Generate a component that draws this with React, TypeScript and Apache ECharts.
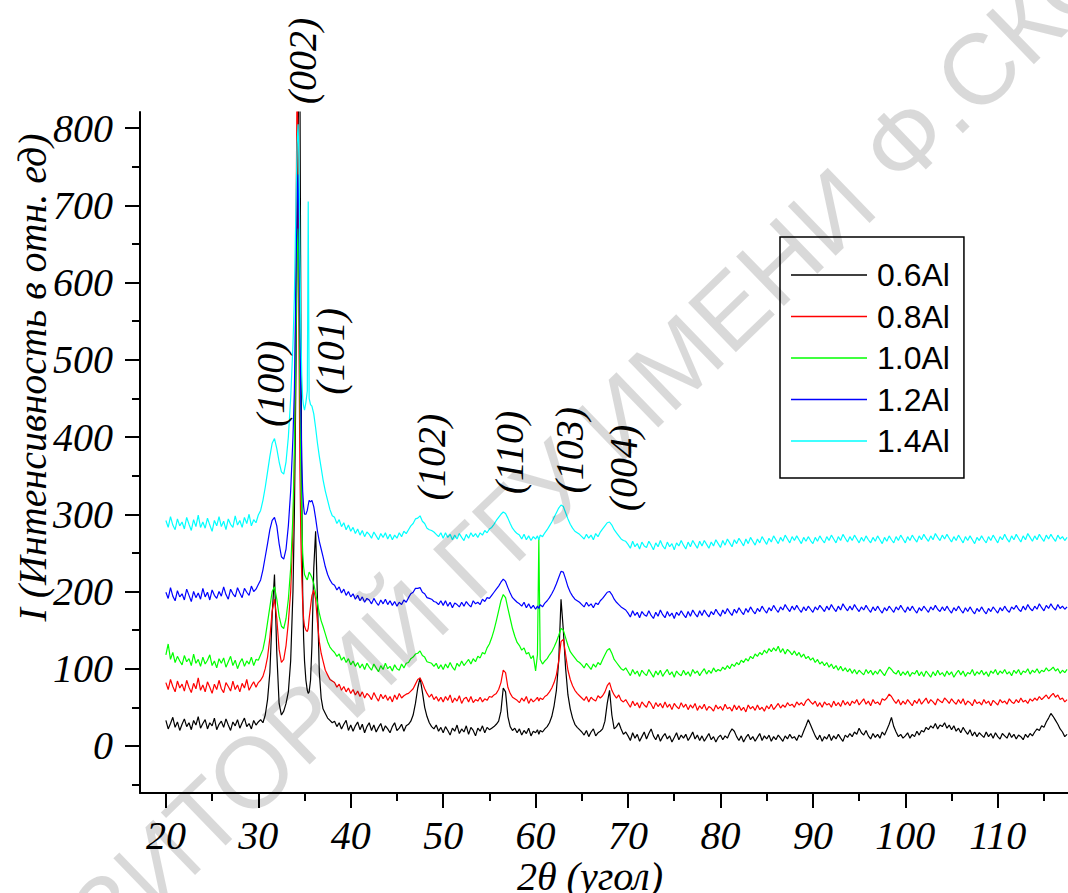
import { useEffect, useRef } from "react";
import * as echarts from "echarts";

const TWO_THETA = [
  20, 20.25, 20.5, 20.75, 21, 21.25, 21.5, 21.75,
  22, 22.25, 22.5, 22.75, 23, 23.25, 23.5, 23.75,
  24, 24.25, 24.5, 24.75, 25, 25.25, 25.5, 25.75,
  26, 26.25, 26.5, 26.75, 27, 27.25, 27.5, 27.75,
  28, 28.25, 28.5, 28.75, 29, 29.25, 29.5, 29.75,
  30,
  30.25, 30.5, 30.75, 31, 31.25, 31.5, 31.75, 32, 32.25, 32.5, 32.75, 33, 33.25, 33.5, 33.75,
  33.9, 34, 34.1, 34.2, 34.3, 34.4, 34.5, 34.6, 34.7, 34.8, 34.9, 35,
  35.15, 35.3, 35.4, 35.5, 35.65, 35.8, 36, 36.2, 36.4, 36.6, 36.8, 37, 37.25, 37.5, 37.75, 38,
  38.25, 38.5, 38.75, 39, 39.25, 39.5, 39.75, 40,
  40.25, 40.5, 40.75, 41, 41.25, 41.5, 41.75, 42,
  42.25, 42.5, 42.75, 43, 43.25, 43.5, 43.75, 44,
  44.25, 44.5, 44.75, 45, 45.25, 45.5, 45.75, 46,
  46.25, 46.5, 46.75, 47, 47.25, 47.5, 47.75, 48, 48.25, 48.5, 48.75, 49, 49.25, 49.5, 49.75,
  50, 50.25, 50.5, 50.75, 51, 51.25, 51.5, 51.75,
  52, 52.25, 52.5, 52.75, 53, 53.25, 53.5, 53.75,
  54, 54.25, 54.5, 54.75, 55,
  55.25, 55.5, 55.75, 56, 56.25, 56.5, 56.75, 57, 57.25, 57.5, 57.75, 58,
  58.25, 58.5, 58.75, 59, 59.25, 59.5, 59.75, 60, 60.2, 60.35, 60.5, 60.75, 61,
  61.25, 61.5, 61.75, 62, 62.25, 62.5, 62.75, 63, 63.25, 63.5, 63.75, 64, 64.25, 64.5, 64.75, 65,
  65.25, 65.5, 65.75, 66, 66.25, 66.5, 66.75, 67,
  67.25, 67.5, 67.75, 68, 68.25, 68.5, 68.75, 69, 69.25, 69.5,
  69.75,
  70, 70.25, 70.5, 70.75, 71, 71.25, 71.5, 71.75,
  72, 72.25, 72.5, 72.75, 73, 73.25, 73.5, 73.75,
  74, 74.25, 74.5, 74.75, 75, 75.25, 75.5, 75.75,
  76, 76.25, 76.5, 76.75, 77, 77.25, 77.5, 77.75,
  78, 78.25, 78.5, 78.75, 79, 79.25, 79.5, 79.75,
  80, 80.25, 80.5, 80.75, 81, 81.25, 81.5, 81.75,
  82, 82.25, 82.5, 82.75, 83, 83.25, 83.5, 83.75,
  84, 84.25, 84.5, 84.75, 85, 85.25, 85.5, 85.75,
  86, 86.25, 86.5, 86.75, 87, 87.25, 87.5, 87.75,
  88, 88.25, 88.5, 88.75, 89, 89.25, 89.5, 89.75,
  90, 90.25, 90.5, 90.75, 91, 91.25, 91.5, 91.75,
  92, 92.25, 92.5, 92.75, 93, 93.25, 93.5, 93.75,
  94, 94.25, 94.5, 94.75, 95, 95.25, 95.5, 95.75,
  96, 96.25, 96.5, 96.75, 97, 97.25, 97.5, 97.75,
  98, 98.25, 98.5, 98.75, 99, 99.25, 99.5, 99.75,
  100, 100.25, 100.5, 100.75, 101, 101.25, 101.5, 101.75,
  102, 102.25, 102.5, 102.75, 103, 103.25, 103.5, 103.75,
  104, 104.25, 104.5, 104.75, 105, 105.25, 105.5, 105.75,
  106, 106.25, 106.5, 106.75, 107, 107.25, 107.5, 107.75,
  108, 108.25, 108.5, 108.75, 109, 109.25, 109.5, 109.75,
  110, 110.25, 110.5, 110.75, 111, 111.25, 111.5, 111.75,
  112, 112.25, 112.5, 112.75, 113, 113.25, 113.5, 113.75,
  114, 114.25, 114.5, 114.75, 115, 115.25, 115.5, 115.75,
  116, 116.25, 116.5, 116.75, 117, 117.25, 117.5,
];

const I_06AL = [
  33, 22, 29, 37, 24, 31, 20, 28,
  35, 25, 30, 21, 33, 27, 38, 23,
  29, 34, 22, 30, 26, 36, 21, 28,
  32, 24, 35, 27, 20, 31, 26, 34,
  23, 30, 36, 25, 29, 22, 33, 27,
  31,
  34, 30, 40, 60, 95, 170, 222, 120, 55, 40, 45, 55, 70, 110, 200,
  300, 400, 520, 650, 780, 880, 870, 560, 330, 200, 140, 110,
  85, 72, 68, 70, 85, 130, 230, 278, 190, 95, 62, 48, 42, 36, 33, 30,
  32, 25, 30, 22, 28, 33, 20, 27,
  19, 26, 31, 21, 28, 17, 25, 30,
  20, 27, 18, 24, 29, 19, 26, 22,
  17, 25, 30, 20, 23, 28, 19, 26,
  28, 32, 40, 55, 75, 88, 70, 50, 38, 30, 25, 22, 27, 19, 24,
  17, 25, 20, 14, 23, 19, 27, 16,
  22, 18, 26, 15, 24, 20, 13, 23,
  19, 26, 17, 24, 21,
  23, 25, 28, 32, 45, 75, 70, 38, 25, 20, 23, 17,
  22, 14, 20, 16, 23, 13, 19, 17, 21, 15, 20, 18, 22,
  25, 30, 38, 52, 72, 110, 190, 150, 100, 66, 48, 36, 28, 24, 21, 18,
  14, 20, 12, 18, 22, 13, 17, 19,
  22, 32, 55, 72, 40, 22, 25, 30, 22, 15,
  18,
  13, 7, 17, 10, 15, 6, 12, 18,
  9, 16, 22, 13, 8, 15, 6, 12,
  16, 9, 13, 5, 11, 17, 8, 14,
  10, 15, 7, 12, 18, 9, 14, 7,
  13, 6, 11, 16, 8, 12, 5, 11,
  14, 8, 13, 10, 17, 22, 19, 12,
  7, 13, 5, 11, 15, 8, 12, 6,
  11, 16, 7, 13, 9, 14, 6, 12,
  8, 14, 10, 6, 13, 9, 15, 10,
  12, 7, 14, 11, 19, 26, 34, 27,
  20, 13, 8, 14, 6, 12, 9, 15,
  7, 13, 9, 15, 10, 6, 14, 11,
  16, 12, 18, 15, 23, 17, 14, 20,
  13, 9, 16, 11, 15, 10, 18, 14,
  21, 28, 37, 25, 18, 12, 15, 10,
  13, 17, 10, 15, 12, 19, 14, 20,
  18, 24, 21, 26, 23, 29, 22, 27,
  25, 30, 23, 27, 21, 26, 19, 23,
  17, 24, 19, 15, 21, 13, 18, 12,
  17, 14, 11, 18, 12, 16, 10, 17,
  12, 9, 16, 13, 10, 17, 11, 15,
  9, 14, 12, 8, 15, 11, 16, 13,
  18, 22, 20, 26, 24, 31, 36, 42,
  38, 33, 28, 22, 18, 12, 15,
];

const I_08AL = [
  82, 73, 86, 77, 70, 84, 75, 80,
  71, 85, 76, 69, 81, 74, 88, 72,
  79, 70, 83, 76, 68, 80, 73, 85,
  74, 69, 82, 77, 71, 84, 73, 79,
  70, 81, 75, 86, 72, 78, 83, 76,
  82,
  85, 90, 100, 115, 140, 175, 190, 165, 125, 108, 112, 130, 160, 200, 280,
  360, 480, 700, 880, 760, 520, 360, 270, 220, 185, 165, 155,
  150, 148, 152, 165, 180, 195, 202, 190, 160, 135, 120, 110, 98, 92, 86, 84,
  82, 76, 80, 72, 77, 70, 75, 68,
  73, 66, 71, 64, 70, 62, 68, 65,
  60, 69, 63, 58, 67, 61, 66, 59,
  64, 57, 66, 60, 68, 62, 65, 67,
  68, 71, 74, 80, 86, 88, 82, 74, 68, 63, 67, 60, 64, 58, 63,
  57, 64, 59, 66, 56, 62, 58, 65,
  55, 61, 63, 57, 64, 56, 60, 58,
  63, 57, 61, 59, 64,
  63, 66, 68, 73, 82, 98, 95, 76, 68, 63, 61, 59,
  56, 62, 58, 64, 55, 61, 57, 60, 63, 58, 62, 60, 64,
  66, 70, 75, 82, 92, 110, 135, 138, 118, 98, 86, 78, 72, 68, 65, 62,
  59, 64, 57, 63, 60, 58, 65, 62,
  65, 70, 78, 82, 72, 66, 62, 66, 59, 57,
  60,
  55, 50, 58, 52, 56, 49, 57, 53,
  50, 58, 54, 48, 56, 51, 55, 49,
  57, 50, 54, 47, 55, 51, 48, 56,
  50, 54, 47, 53, 49, 55, 46, 52,
  48, 54, 46, 51, 49, 45, 53, 48,
  51, 46, 54, 48, 50, 45, 53, 47,
  52, 46, 50, 44, 53, 48, 51, 46,
  53, 47, 50, 45, 52, 48, 54, 47,
  51, 55, 49, 53, 50, 56, 52, 54,
  50, 57, 53, 56, 52, 58, 61, 57,
  54, 58, 51, 56, 50, 57, 53, 55,
  50, 58, 52, 56, 51, 59, 53, 57,
  52, 58, 55, 60, 53, 57, 61, 54,
  58, 52, 60, 55, 57, 53, 61, 59,
  62, 67, 64, 59, 55, 60, 53, 58,
  54, 60, 56, 52, 59, 55, 61, 54,
  58, 62, 55, 60, 57, 53, 61, 58,
  56, 62, 59, 55, 61, 57, 54, 60,
  55, 61, 53, 58, 56, 52, 60, 55,
  57, 53, 60, 55, 58, 52, 59, 56,
  53, 60, 56, 58, 54, 61, 57, 55,
  60, 56, 62, 57, 59, 55, 61, 58,
  62, 59, 64, 60, 63, 66, 61, 65,
  68, 63, 66, 60, 62, 57, 60,
];

const I_10AL = [
  118, 132, 112, 121, 108, 116, 110, 105,
  117, 109, 113, 104, 119, 107, 112, 103,
  115, 106, 111, 118, 104, 110, 101, 113,
  107, 114, 102, 109, 116, 104, 111, 100,
  108, 113, 103, 110, 106, 115, 104, 112,
  111,
  118, 125, 140, 160, 180, 200, 206, 190, 168, 155, 152, 165, 190, 230, 300,
  380, 470, 560, 640, 670, 600, 470, 360, 290, 250, 232, 222,
  218, 215, 220, 225, 222, 218, 210, 198, 185, 172, 162, 155, 145, 135, 128, 124,
  121, 116, 119, 111, 115, 108, 113, 105,
  110, 103, 108, 101, 106, 99, 107, 102,
  98, 106, 101, 96, 104, 99, 107, 100,
  103, 97, 105, 100, 98, 106, 101, 107,
  108, 113, 115, 119, 120, 123, 117, 115, 109, 108, 107, 103, 107, 100, 105,
  99, 106, 101, 108, 102, 98, 107, 103,
  110, 104, 108, 112, 106, 113, 109, 116,
  114, 121, 119, 127, 132,
  140, 150, 162, 175, 188, 196, 192, 178, 165, 152, 142, 134,
  130, 124, 127, 119, 121, 113, 117, 97, 118, 268, 112, 106, 110,
  113, 118, 122, 128, 135, 143, 152, 150, 140, 130, 122, 118, 114, 110, 108, 105,
  101, 107, 103, 99, 106, 102, 108, 105,
  112, 118, 124, 126, 120, 112, 108, 104, 100, 98,
  101,
  96, 91, 99, 93, 97, 90, 98, 94,
  91, 99, 94, 89, 97, 92, 98, 90,
  95, 99, 92, 96, 89, 97, 93, 91,
  98, 92, 96, 90, 99, 94, 97, 91,
  96, 100, 93, 98, 94, 101, 96, 99,
  97, 102, 99, 104, 100, 106, 103, 108,
  105, 111, 108, 113, 110, 116, 113, 119,
  116, 121, 118, 124, 120, 126, 122, 127,
  123, 129, 121, 126, 119, 125, 122, 118,
  123, 117, 121, 115, 119, 113, 116, 111,
  114, 108, 112, 106, 109, 104, 108, 102,
  106, 100, 104, 98, 103, 97, 101, 96,
  100, 94, 99, 93, 98, 95, 92, 99,
  94, 98, 92, 97, 93, 99, 95, 91,
  97, 102, 99, 95, 93, 98, 91, 96,
  92, 97, 90, 95, 93, 98, 91, 96,
  90, 97, 93, 89, 96, 91, 98, 92,
  95, 90, 97, 92, 96, 89, 94, 98,
  92, 97, 90, 95, 93, 99, 91, 96,
  93, 98, 92, 96, 90, 97, 94, 99,
  92, 97, 94, 99, 93, 96, 91, 98,
  94, 99, 92, 97, 95, 100, 93, 98,
  95, 100, 94, 98, 96, 101, 97, 99,
  102, 97, 100, 94, 98, 95, 99,
];

const I_12AL = [
  199, 191, 205, 194, 188, 201, 193, 197,
  189, 203, 195, 187, 200, 192, 198, 190,
  204, 193, 199, 189, 202, 195, 191, 200,
  194, 206, 196, 190, 203, 197, 193, 205,
  198, 192, 204, 199, 195, 207, 200, 203,
  209,
  215, 228, 245, 262, 280, 292, 296, 285, 262, 245, 242, 255, 285, 330, 400,
  460, 540, 630, 700, 740, 680, 560, 440, 370, 330, 310, 300,
  300, 305, 312, 318, 316, 318, 310, 295, 278, 265, 255, 245, 232, 222, 215, 210,
  208, 202, 206, 198, 203, 195, 200, 193,
  197, 190, 195, 188, 193, 186, 191, 189,
  184, 191, 186, 182, 189, 184, 190, 183,
  188, 182, 187, 181, 186, 183, 189, 186,
  192, 197, 199, 204, 204, 205, 199, 197, 192, 191, 190, 187, 186, 183, 188,
  182, 188, 181, 186, 179, 185, 183, 180,
  186, 181, 187, 183, 180, 188, 184, 186,
  183, 190, 187, 192, 191,
  195, 199, 203, 207, 212, 216, 213, 205, 198, 192, 189, 186,
  184, 181, 186, 179, 184, 178, 182, 177, 181, 178, 183, 180, 185,
  188, 192, 197, 203, 210, 218, 226, 225, 216, 206, 199, 194, 190, 188, 186, 183,
  180, 186, 181, 184, 179, 185, 183, 188,
  191, 195, 199, 200, 196, 190, 186, 183, 180, 178,
  176,
  172, 167, 175, 169, 173, 166, 174, 170,
  168, 175, 169, 165, 173, 168, 176, 170,
  166, 174, 168, 172, 165, 173, 169, 175,
  170, 166, 174, 168, 176, 171, 167, 175,
  169, 176, 171, 167, 174, 170, 177, 172,
  168, 176, 171, 178, 173, 169, 177, 172,
  179, 174, 170, 178, 173, 180, 175, 171,
  178, 174, 181, 176, 172, 179, 175, 182,
  177, 173, 180, 176, 183, 178, 174, 181,
  176, 182, 177, 173, 180, 175, 181, 177,
  173, 180, 176, 182, 178, 174, 181, 176,
  183, 178, 174, 181, 176, 184, 179, 175,
  181, 176, 183, 178, 174, 180, 176, 182,
  177, 173, 180, 175, 181, 176, 172, 179,
  175, 181, 177, 173, 180, 176, 182, 177,
  173, 180, 175, 181, 176, 172, 179, 175,
  181, 177, 173, 180, 176, 182, 177, 174,
  180, 175, 181, 176, 172, 179, 175, 181,
  176, 172, 179, 174, 180, 175, 171, 178,
  174, 180, 175, 171, 178, 174, 180, 176,
  172, 179, 175, 181, 176, 173, 180, 177,
  182, 177, 174, 181, 176, 183, 178, 175,
  181, 177, 184, 179, 175, 182, 178, 184,
  179, 176, 183, 178, 181, 177, 180,
];

const I_14AL = [
  292, 283, 297, 286, 280, 294, 285, 290,
  281, 296, 287, 279, 293, 284, 299, 283,
  290, 282, 295, 286, 278, 292, 285, 297,
  284, 291, 280, 294, 287, 283, 298, 286,
  292, 283, 296, 288, 300, 285, 293, 289,
  299,
  305, 318, 335, 355, 375, 392, 398, 385, 368, 355, 352, 368, 400, 450, 520,
  580, 650, 720, 780, 805, 760, 640, 540, 480, 450, 440, 435,
  445, 460, 705, 450, 442, 440, 430, 412, 392, 375, 360, 345, 330, 318, 306, 298,
  296, 288, 293, 284, 289, 280, 286, 278,
  283, 275, 281, 273, 279, 271, 277, 274,
  269, 277, 272, 267, 275, 270, 276, 268,
  274, 267, 273, 269, 276, 271, 278, 275,
  280, 285, 288, 294, 295, 298, 291, 288, 282, 280, 279, 277, 274, 271, 276,
  269, 276, 270, 274, 267, 273, 268, 275,
  270, 266, 274, 269, 276, 271, 275, 270,
  276, 273, 279, 276, 281,
  283, 287, 292, 296, 300, 303, 301, 295, 288, 282, 278, 275,
  273, 268, 274, 267, 272, 266, 271, 268, 272, 267, 273, 271, 276,
  280, 285, 290, 296, 302, 308, 312, 310, 302, 294, 287, 282, 278, 276, 274, 271,
  268, 274, 269, 273, 267, 275, 271, 277,
  281, 285, 289, 290, 286, 280, 276, 272, 268, 266,
  265,
  261, 256, 265, 258, 262, 255, 264, 259,
  257, 265, 260, 254, 263, 258, 266, 259,
  255, 264, 258, 262, 254, 263, 259, 266,
  260, 255, 264, 258, 266, 261, 256, 265,
  259, 266, 261, 256, 264, 259, 267, 262,
  257, 266, 260, 268, 263, 258, 267, 262,
  269, 264, 259, 268, 262, 270, 265, 260,
  268, 263, 271, 266, 261, 269, 264, 272,
  267, 262, 270, 265, 273, 268, 263, 271,
  266, 272, 267, 262, 270, 265, 271, 266,
  262, 270, 265, 272, 267, 263, 271, 266,
  273, 268, 263, 271, 266, 274, 269, 264,
  271, 266, 273, 268, 263, 270, 265, 272,
  267, 263, 270, 265, 272, 267, 262, 270,
  265, 272, 267, 263, 271, 266, 273, 268,
  263, 271, 266, 273, 268, 264, 272, 267,
  274, 269, 265, 272, 267, 275, 270, 266,
  273, 268, 274, 269, 264, 271, 266, 273,
  268, 263, 271, 266, 272, 267, 262, 270,
  266, 272, 267, 263, 271, 266, 273, 268,
  263, 271, 267, 274, 268, 264, 272, 267,
  274, 269, 264, 272, 267, 275, 270, 265,
  272, 267, 274, 269, 265, 273, 268, 274,
  269, 265, 273, 268, 271, 266, 270,
];

const SERIES_NAMES = ["0.6Al", "0.8Al", "1.0Al", "1.2Al", "1.4Al"];
const SERIES_VALUES = [I_06AL, I_08AL, I_10AL, I_12AL, I_14AL];
const SERIES_COLORS = ["#000000", "#ff0000", "#00ff00", "#0000ff", "#00ffff"];

// Miller-index annotations (label centre, in data coordinates)
const HKL_LABELS = ["(100)", "(002)", "(101)", "(102)", "(110)", "(103)", "(004)"];
const HKL_X = [31.27, 34.73, 37.76, 48.79, 57.23, 63.72, 69.46];
const HKL_Y = [469, 887, 511, 374, 380, 383, 360];

const X_NAME = "2θ (угол)";
const Y_NAME = "I (Интенсивность в отн. ед)";
const WATERMARK = "РЕПОЗИТОРИЙ ГГУ ИМЕНИ Ф.СКОРИНЫ";

// axis extents
const XMIN = 17.2;
const XMAX = 117.6;
const YMIN = -61;
const YMAX = 821;

export default function App() {
  const ref = useRef<HTMLDivElement>(null);

  useEffect(() => {
    if (!ref.current) return;
    const chart = echarts.init(ref.current, null, { renderer: "svg" });

    const W = 1068;
    const H = 893;
    const G = { left: 140, top: 112, right: 0, bottom: 100 };
    const PW = W - G.left - G.right;
    const PH = H - G.top - G.bottom;
    const px = (v: number) => G.left + ((v - XMIN) / (XMAX - XMIN)) * PW;
    const py = (v: number) => G.top + ((YMAX - v) / (YMAX - YMIN)) * PH;

    const serif = { fontFamily: "Liberation Serif", fontStyle: "italic" as const, color: "#000" };
    const tickLine = { color: "#000", width: 2 };
    const hidden = (gi: number) => ({ gridIndex: gi, type: "value" as const, show: false, axisLine: { onZero: false } });
    const fixedGrid = { containLabel: false, outerBoundsMode: "none" };

    const n = Math.min(TWO_THETA.length, ...SERIES_VALUES.map((s) => s.length));

    const option: any = {
      animation: false,
      backgroundColor: "#ffffff",
      grid: [
        { ...fixedGrid, left: G.left, top: G.top, right: G.right, bottom: G.bottom },
        { ...fixedGrid, left: px(20), width: px(115) - px(20), top: G.top, bottom: G.bottom },
        { ...fixedGrid, left: px(20), width: px(110) - px(20), top: G.top, bottom: G.bottom },
        { ...fixedGrid, left: G.left, right: G.right, top: py(800), height: py(-50) - py(800) },
        { ...fixedGrid, left: G.left, right: G.right, top: py(800), height: py(0) - py(800) },
      ],
      xAxis: [
        {
          gridIndex: 0,
          type: "value",
          min: XMIN,
          max: XMAX,
          axisLine: { show: true, onZero: false, lineStyle: tickLine },
          axisTick: { show: false },
          axisLabel: { show: false },
          splitLine: { show: false },
          name: X_NAME,
          nameLocation: "middle",
          nameGap: 63,
          nameTextStyle: { ...serif, fontSize: 40, padding: [0, 28, 0, 0] },
        },
        {
          gridIndex: 1,
          type: "value",
          min: 20,
          max: 115,
          interval: 5,
          axisLine: { show: false, onZero: false },
          axisTick: { show: true, length: 8, lineStyle: tickLine },
          axisLabel: { show: false },
          splitLine: { show: false },
        },
        {
          gridIndex: 2,
          type: "value",
          min: 20,
          max: 110,
          interval: 10,
          axisLine: { show: false, onZero: false },
          axisTick: { show: true, length: 15, lineStyle: tickLine },
          axisLabel: { ...serif, fontSize: 40, margin: 22 },
          splitLine: { show: false },
        },
        hidden(3),
        hidden(4),
      ],
      yAxis: [
        {
          gridIndex: 0,
          type: "value",
          min: YMIN,
          max: YMAX,
          axisLine: { show: true, onZero: false, lineStyle: tickLine },
          axisTick: { show: false },
          axisLabel: { show: false },
          splitLine: { show: false },
          name: Y_NAME,
          nameLocation: "middle",
          nameGap: 88,
          nameTextStyle: { ...serif, fontSize: 40, padding: [0, 0, 0, 150] },
        },
        hidden(1),
        hidden(2),
        {
          gridIndex: 3,
          type: "value",
          min: -50,
          max: 800,
          interval: 50,
          axisLine: { show: false, onZero: false },
          axisTick: { show: true, length: 8, lineStyle: tickLine },
          axisLabel: { show: false },
          splitLine: { show: false },
        },
        {
          gridIndex: 4,
          type: "value",
          min: 0,
          max: 800,
          interval: 100,
          axisLine: { show: false, onZero: false },
          axisTick: { show: true, length: 15, lineStyle: tickLine },
          axisLabel: { ...serif, fontSize: 40, margin: 27 },
          splitLine: { show: false },
        },
      ],
      legend: {
        data: SERIES_NAMES,
        orient: "vertical",
        left: 780,
        top: 237,
        padding: [22, 14, 21, 11],
        icon: "rect",
        itemWidth: 76,
        itemHeight: 1.5,
        itemGap: 9.5,
        borderColor: "#000",
        borderWidth: 1.5,
        selectedMode: false,
        textStyle: {
          fontFamily: "Liberation Sans",
          fontSize: 32,
          lineHeight: 32,
          color: "#000",
          padding: [0, 0, 0, 5],
        },
      },
      series: [
        ...SERIES_VALUES.map((vals, i) => ({
          type: "line",
          name: SERIES_NAMES[i],
          xAxisIndex: 0,
          yAxisIndex: 0,
          data: TWO_THETA.slice(0, n).map((x, j) => [x, vals[j]]),
          showSymbol: false,
          symbol: "none",
          color: SERIES_COLORS[i],
          lineStyle: { color: SERIES_COLORS[i], width: 1.2 },
          itemStyle: { color: SERIES_COLORS[i] },
          clip: true,
        })),
        {
          type: "scatter",
          name: "hkl",
          xAxisIndex: 0,
          yAxisIndex: 0,
          clip: false,
          silent: true,
          symbolSize: 1,
          itemStyle: { color: "rgba(0,0,0,0)" },
          z: 5,
          data: HKL_LABELS.map((name, i) => ({ name, value: [HKL_X[i], HKL_Y[i]] })),
          label: {
            show: true,
            position: "inside",
            formatter: "{b}",
            rotate: 90,
            ...serif,
            fontSize: 40,
            opacity: 1,
            textBorderWidth: 0,
          },
        },
      ],
      graphic: [
        {
          type: "text",
          x: 600,
          y: 435,
          rotation: (44 * Math.PI) / 180,
          z: 100,
          silent: true,
          style: {
            text: WATERMARK,
            fill: "rgba(0,0,0,0.15)",
            fontSize: 100,
            fontFamily: "Liberation Sans",
            align: "center",
            verticalAlign: "middle",
          },
        },
      ],
    };

    chart.setOption(option);
    return () => chart.dispose();
  }, []);

  return (
    <div
      ref={ref}
      style={{ position: "absolute", left: 0, top: 0, width: 1068, height: 893, background: "#fff" }}
    />
  );
}
